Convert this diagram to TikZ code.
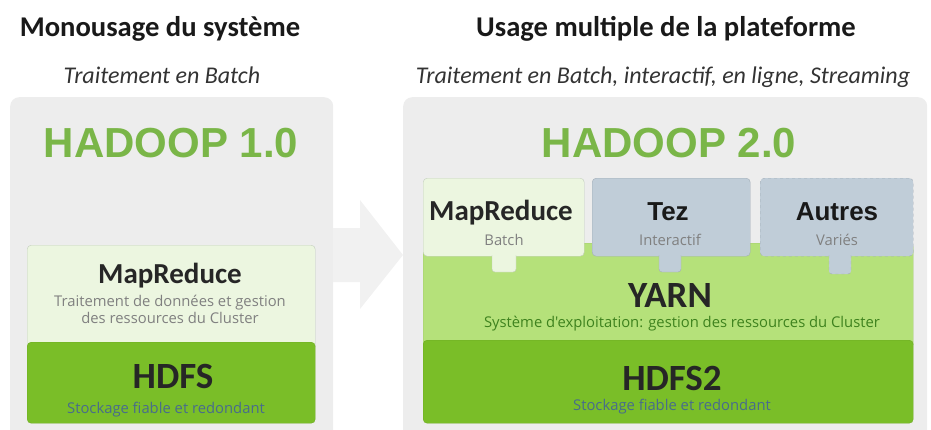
\documentclass[tikz,border=0pt]{standalone}
\usepackage{fontspec}
\setmainfont{Carlito}
\newfontfamily\arialfont{Liberation Sans}
\newfontfamily\smallfont{Open Sans}
\usetikzlibrary{positioning}
\definecolor{panelgray}{RGB}{237,237,237}
\definecolor{hadoopgreen}{RGB}{122,182,72}
\definecolor{mrgreen}{RGB}{236,246,224}
\definecolor{yarngreen}{RGB}{181,225,122}
\definecolor{hdfsgreen}{RGB}{122,190,40}
\definecolor{tezblue}{RGB}{192,205,216}
\definecolor{edgegray}{RGB}{196,206,190}
\definecolor{subgray}{RGB}{128,128,128}
\definecolor{subblue}{RGB}{72,108,140}
\definecolor{subgreen}{RGB}{62,130,30}
\tikzstyle{panel} = [rectangle,rounded corners=9pt,fill=panelgray,anchor=north west,inner sep=0pt]

\begin{document}
\begin{tikzpicture}
		[
		x=1pt,y=-1pt,
		box/.style={
		rectangle,
		rounded corners=4pt,
		anchor=north west,
		inner sep=0pt},
		headline/.style={anchor=base,font=\bfseries\fontsize{28.6}{30}\selectfont,text=black!90},
		usage/.style={anchor=base,font=\itshape\fontsize{24}{26}\selectfont,text=black!80},
		version/.style={anchor=base,font=\arialfont\bfseries\fontsize{42}{44}\selectfont,text=hadoopgreen},
		label/.style={anchor=base,font=\bfseries\fontsize{29}{31}\selectfont,text=black!85},
		biglabel/.style={anchor=base,font=\bfseries\fontsize{37}{39}\selectfont,text=black!85},
		applabel/.style={anchor=base,font=\arialfont\bfseries\fontsize{26}{28}\selectfont,text=black!90},
		note/.style={anchor=base,font=\smallfont\fontsize{14.8}{17}\selectfont,align=center}
		]
		\useasboundingbox (0,0) rectangle (931,429);
		% panneaux gris et fleche
		\node[panel,minimum width=323pt,minimum height=345pt](left) at (10,97) {};
		\node[panel,minimum width=524pt,minimum height=345pt](right) at (403,97) {};
		\fill[panelgray!80!white] (333,228) -- (360,228) -- (360,200) -- (403,255) -- (360,309) -- (360,282) -- (333,282) -- cycle;

		% Hadoop 1.0
		\node[headline](title1) at (160,36) {Monousage du système};
		\node[usage](usage1) at (162,83) {Traitement en Batch};
		\node[version](hadoop1) at (171,157) {HADOOP 1.0};
		\node[box,fill=mrgreen,draw=edgegray,minimum width=288pt,minimum height=105pt](mr1) at (27,245) {};
		\node[box,fill=hdfsgreen,draw=hdfsgreen!90!black,minimum width=288pt,minimum height=81pt](hdfs1) at (27,342) {};
		\node[label](mr1t) at (170,283) {MapReduce};
		\node[note,text=subgray](mr1n) at (170,306) {Traitement de données et gestion};
		\node[note,text=subgray](mr1m) at (170,323) {des ressources du Cluster};
		\node[biglabel](hdfs1t) at (173,388) {HDFS};
		\node[note,text=subblue](hdfs1n) at (166,413) {Stockage fiable et redondant};

		% Hadoop 2.0
		\node[headline](title2) at (666,36) {Usage multiple de la plateforme};
		\node[usage](usage2) at (663,83) {Traitement en Batch, interactif, en ligne, Streaming};
		\node[version](hadoop2) at (669,157) {HADOOP 2.0};
		\node[box,fill=yarngreen,draw=yarngreen!90!black,minimum width=490pt,minimum height=105pt](yarn) at (423,243) {};
		\node[box,fill=hdfsgreen,draw=hdfsgreen!90!black,minimum width=490pt,minimum height=83pt](hdfs2) at (423,340) {};
		\node[biglabel](yarnt) at (670,307) {YARN};
		\node[note,text=subgreen](yarnn) at (682,327) {Système d'exploitation: gestion des ressources du Cluster};
		\node[biglabel](hdfs2t) at (672,390) {HDFS2};
		\node[note,text=subblue](hdfs2n) at (672,410) {Stockage fiable et redondant};

		% applications sur YARN
		\node[box,fill=mrgreen,draw=edgegray,minimum width=161pt,minimum height=78pt](mr2) at (423,178) {};
		\path[fill=mrgreen,draw=edgegray,rounded corners=3pt] (492,255) -- (492,272) -- (516,272) -- (516,255);
		\node[box,fill=tezblue,draw=tezblue!85!black,minimum width=158pt,minimum height=78pt](tez) at (592,178) {};
		\path[fill=tezblue,draw=tezblue!85!black,rounded corners=3pt] (659,255) -- (659,272) -- (681,272) -- (681,255);
		\node[box,fill=tezblue,draw=tezblue!85!black,dashed,minimum width=153pt,minimum height=78pt](autres) at (760,178) {};
		\path[fill=tezblue,draw=tezblue!85!black,dashed,rounded corners=3pt] (829,255) -- (829,274) -- (851,274) -- (851,255);
		\node[label](mr2t) at (501,220) {MapReduce};
		\node[note,text=subgray](mr2n) at (504,245) {Batch};
		\node[applabel](tezt) at (668,220) {Tez};
		\node[note,text=subgray](tezn) at (670,245) {Interactif};
		\node[applabel](autrest) at (837,220) {Autres};
		\node[note,text=subgray](autresn) at (837,245) {Variés};
		\end{tikzpicture}
\end{document}
